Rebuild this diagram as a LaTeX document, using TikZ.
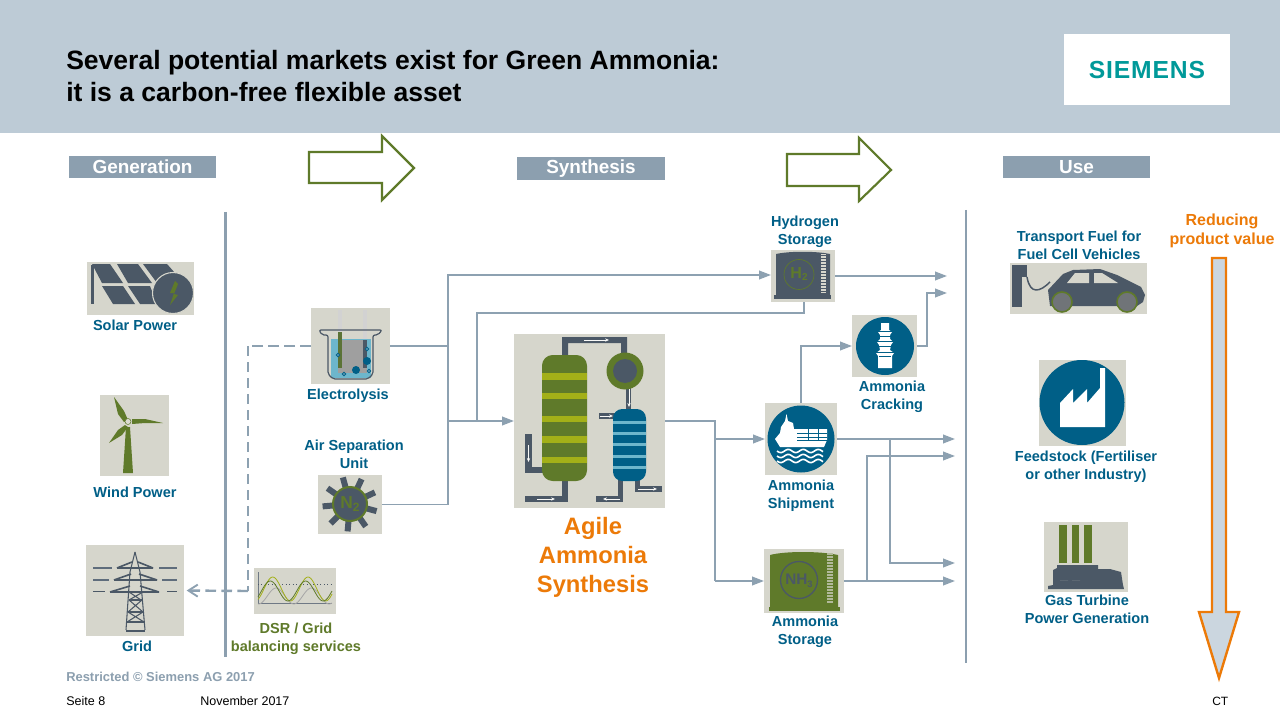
\documentclass[tikz,border=0pt]{standalone}
\usepackage{fontspec}
\setmainfont{Liberation Sans}
\usetikzlibrary{arrows.meta,calc}
\definecolor{hdr}{HTML}{BDCBD6}
\definecolor{steel}{HTML}{8C9FAF}
\definecolor{conn}{HTML}{8DA1B1}
\definecolor{tile}{HTML}{D6D6CC}
\definecolor{slate}{HTML}{4B5866}
\definecolor{leaf}{HTML}{5F7A2A}
\definecolor{lime}{HTML}{A3B018}
\definecolor{teal}{HTML}{005F87}
\definecolor{lteal}{HTML}{6DB6CC}
\definecolor{orng}{HTML}{EC7A08}
\definecolor{shaft}{HTML}{CBD6DF}
\definecolor{smns}{HTML}{009999}
\tikzset{
  tile/.style={fill=tile,draw=none,inner sep=0pt,outer sep=0pt},
  lbl/.style={text=teal,font=\bfseries\fontsize{10.9}{13.5}\selectfont,align=center,inner sep=0pt},
  cat/.style={fill=steel,text=white,font=\bfseries\fontsize{14.2}{16}\selectfont,inner sep=0pt,outer sep=0pt},
  link/.style={draw=conn,line width=1.35pt},
  flow/.style={link,-{Triangle[length=9pt,width=6.5pt,fill=conn]}},
  dashlink/.style={draw=conn,line width=1.8pt,dash pattern=on 8pt off 4pt},
  dashthin/.style={draw=conn,line width=1.2pt,dash pattern=on 7.5pt off 4.5pt},
  block/.style={draw=leaf,line width=1.6pt,fill=white},
  pipe/.style={fill=slate},
  wa/.style={draw=white!85!tile,line width=.6pt,-{Stealth[length=3pt,width=2.5pt]}},
}
% box node with pixel edges: name, x0, y0, x1, y1
\newcommand{\tilebox}[5]{\node[tile,minimum width={(#4-#2)*0.75pt},minimum height={(#5-#3)*0.75pt}] (#1) at ({(#2+#4)/2},{(#3+#5)/2}) {};}
\begin{document}
\begin{tikzpicture}[x=0.75pt,y=-0.75pt]
\useasboundingbox (0,0) rectangle (1280,720);
\fill[white] (0,0) rectangle (1280,720);
\fill[hdr] (0,0) rectangle (1280,133);
% title
\node[anchor=west,inner sep=0pt,align=left,font=\bfseries\fontsize{19.9}{24.2}\selectfont] (title) at (66,76)
 {Several potential markets exist for Green Ammonia:\\it is a carbon-free flexible asset};
\fill[white] (1064,34) rectangle (1230,105);
\node[text=smns,font=\bfseries\fontsize{18.5}{20}\selectfont\addfontfeature{LetterSpace=3.5},inner sep=0pt] (logo) at (1147,70) {SIEMENS};
% category headers
\node[cat,minimum width=110.25pt,minimum height=16.5pt] (gen) at (142.5,167) {\raisebox{.7pt}{Generation}};
\node[cat,minimum width=111pt,minimum height=17.25pt] (syn) at (591,168.5) {\raisebox{.7pt}{Synthesis}};
\node[cat,minimum width=110.25pt,minimum height=16.5pt] (use) at (1076.5,167) {\raisebox{.7pt}{Use}};
% block arrows
\draw[block,line join=miter] (309,152) -- (382,152) -- (382,136) -- (414,168) -- (382,200) -- (382,183) -- (309,183) -- cycle;
\draw[block,line join=miter] (787,154) -- (859,154) -- (859,138) -- (891,170) -- (859,201) -- (859,186) -- (787,186) -- cycle;
% separators
\draw[steel,line width=2.2pt] (225.5,212) -- (225.5,657);
\draw[steel,line width=2.2pt] (966,210) -- (966,663);

% ---------- tiles
\tilebox{solar}{87}{262}{194}{315}
\tilebox{wind}{100}{395}{169}{476}
\tilebox{grid}{86}{545}{184}{636}
\tilebox{elec}{311}{308}{390}{384}
\tilebox{asu}{318}{475}{382}{534}
\tilebox{dsr}{254}{568}{336}{614}
\tilebox{htank}{771}{250}{835}{302}
\tilebox{crack}{852}{315}{917}{377}
\tilebox{ship}{765}{403}{837}{475}
\tilebox{synth}{514}{334}{665}{508}
\tilebox{store}{764}{549}{844}{613}
\tilebox{car}{1010}{263}{1147}{314}
\tilebox{fact}{1039}{360}{1126}{446}
\tilebox{gast}{1044}{522}{1128}{592}

% solar icon
\fill[slate] (92,264) -- (110,264) -- (123,283) -- (102,283) -- cycle;
\fill[slate] (117,264) -- (138,264) -- (152,283) -- (128,283) -- cycle;
\fill[slate] (143,264) -- (167,264) -- (175,273) -- (157,283) -- cycle;
\fill[slate] (102,286) -- (123,286) -- (135,304) -- (113,304) -- cycle;
\fill[slate] (128,286) -- (150,286) -- (157,304) -- (140,304) -- cycle;
\fill[slate] (91,265) rectangle (94,304);
\fill[slate,draw=tile,line width=.8pt] (173,293) circle [radius=20.5];
\fill[leaf] (175,281) -- (170,293) -- (174,293) -- (170,305) -- (178,295) -- (174,294) -- (178,284) -- cycle;
% wind icon
\fill[leaf] (126,427) -- (130,427) -- (133,473) -- (123,473) -- cycle;
\fill[leaf] (114,397) -- (124,411) -- (128,420) -- (124,422) -- (118,414) -- cycle;
\fill[leaf] (132,419) -- (145,419) -- (163,423) -- (145,423) -- (132,424) -- cycle;
\fill[leaf] (125,425) -- (128,427) -- (122,435) -- (109,443) -- (118,430) -- cycle;
\fill[tile!90!white,draw=leaf,line width=.4pt] (128,421.5) circle [radius=3];
% pylon icon
\begin{scope}[draw=slate,line width=.8pt]
\draw (135,552) -- (130,572) -- (126,630);
\draw (135,552) -- (140,572) -- (145,630);
\draw[line width=1.1pt] (126,631) -- (145,631);
\draw (129,600) -- (142,600) (128,612) -- (143,612) (127,622) -- (144,622);
\draw (129,600) -- (143,612) (142,600) -- (128,612) (128,612) -- (144,622) (143,612) -- (127,622);
\draw (129,600) -- (143,592) (141,600) -- (129,592);
\draw[line width=1.2pt] (117,568) -- (153,568) (132,562) -- (117,568) (138,562) -- (153,568);
\draw[line width=1.2pt] (114,580) -- (157,580) (131,574) -- (114,580) (139,574) -- (157,580);
\draw[line width=1.2pt] (110,592) -- (159,592) (130,586) -- (110,592) (140,586) -- (159,592);
\draw[slate!70!steel,line width=1pt] (93,568) -- (112,568) (159,568) -- (177,568) (93,580) -- (109,580) (162,580) -- (177,580);
\draw[line width=1.3pt] (93,591.5) -- (105,591.5) (167,591.5) -- (177,591.5);
\end{scope}
% beaker icon
\fill[gray!35] (338,310) rectangle (342,340);
\fill[gray!35] (363,310) rectangle (367,340);
\fill[lteal] (331,339) rectangle (371,378);
\fill[gray!75] (338,340) rectangle (367,373);
\fill[leaf!80!slate] (338,332) rectangle (342,368);
\fill[slate] (363,340) rectangle (367,368);
\draw[slate,line width=.9pt,rounded corners=1.5pt] (322,335) -- (319,330) -- (382,330) -- (378,335) -- (373,335) -- (373,374) -- (368,379) -- (333,379) -- (328,374) -- (328,335) -- cycle;
\fill[teal] (356,370) circle [radius=4];
\fill[teal] (367,361) circle [radius=4];
\foreach \p in {(338,355),(367,349),(369,371),(344,374)}{\draw[teal,line width=.7pt,fill=white] \p circle [radius=1.6];}
% N2 icon
\foreach \a in {15,55,...,355}{\draw[slate,line width=4.5pt] (350,504) -- ++(\a:27.5);}
\fill[slate,draw=leaf,line width=1.5pt] (350,504) circle [radius=17];
\node[text=leaf,font=\bfseries\fontsize{13}{14}\selectfont,inner sep=0pt] (n2) at (350,504) {N\raisebox{-2pt}{\fontsize{9}{9}\selectfont 2}};
% DSR icon
\begin{scope}[line width=.6pt]
\draw[slate!80] (258,572) -- (258,603) -- (332,603);
\draw[slate,dotted] (258,584) -- (332,584);
\draw[gray!70!white] plot[domain=258:332,samples=60,smooth] (\x,{596-8*sin(10.2*(\x-258)-95)});
\draw[lime] plot[domain=258:332,samples=60,smooth] (\x,{589-12*sin(10.2*(\x-258)-60)});
\draw[leaf] plot[domain=258:332,samples=60,smooth] (\x,{591-10*sin(10.2*(\x-258)-35)});
\end{scope}
% H2 tank icon
\fill[slate] (776,254) .. controls (790,251) and (815,251) .. (830,254) -- (830,295) -- (776,295) -- cycle;
\fill[slate] (774,295) rectangle (831,298.5);
\fill[tile] (821,254) rectangle (826,293);
\draw[leaf,line width=.5pt] (799,274.5) circle [radius=15];
\node[text=leaf,font=\bfseries\fontsize{12}{13}\selectfont,inner sep=0pt] (h2) at (799,274) {H\raisebox{-2pt}{\fontsize{7.5}{8}\selectfont 2}};
\foreach \y in {255,258,...,292}{\draw[slate,line width=.3pt] (821,\y) -- (826,\y);}
% cracking icon
\fill[teal] (885,346) circle [radius=29];
\fill[white] (881,323) -- (889,323) -- (889,330) -- (892,332) -- (890,335) -- (890,339) -- (893,342) -- (891,345) -- (890,350) -- (894,353) -- (892,356) -- (892,368) -- (878,368) -- (878,356) -- (876,353) -- (880,350) -- (879,345) -- (877,342) -- (880,339) -- (880,335) -- (878,332) -- (881,330) -- cycle;
\draw[teal,line width=.5pt] (878,331) -- (892,331) (877,341) -- (893,341) (876,352) -- (894,352) (879,336) -- (891,336) (879,346) -- (891,346) (879,356) -- (891,356);
% ship icon
\fill[teal] (801,439) circle [radius=33.5];
\fill[white] (775,439) -- (780,433) -- (781,427) -- (785,421) -- (786.5,414) -- (788,421) -- (793,423) -- (794,429) -- (797,429) -- (827,429) -- (827,440) -- (824,447) -- (780,447) -- cycle;
\draw[teal,line width=.4pt] (797,433) -- (827,433) (797,437) -- (827,437) (808,429) -- (808,440) (818,429) -- (818,440) (797,440) -- (827,440);
\foreach \y in {451,456,461}{\draw[white,line width=1.2pt] plot[domain=777:823,samples=40,smooth] (\x,{\y+1.6*sin(24*(\x-777))});}
% storage icon
\fill[leaf] (770,555) .. controls (785,551) and (820,551) .. (838,555) -- (838,607) -- (770,607) -- cycle;
\fill[leaf] (769,607) rectangle (840,611);
\fill[tile!70!leaf] (827,553) rectangle (833,603);
\foreach \y in {555,558,...,602}{\draw[leaf,line width=.3pt] (827,\y) -- (833,\y);}
\draw[slate,line width=1pt] (799,580) circle [radius=18.5];
\node[text=slate,font=\bfseries\fontsize{11.5}{13}\selectfont,inner sep=0pt] (nh3) at (799,581) {NH\raisebox{-2pt}{\fontsize{7}{8}\selectfont 3}};
% synthesis icon
\fill[pipe] (562,355) -- (562,337) -- (627,337) -- (627,356) -- (621,356) -- (621,343) -- (568,343) -- (568,355) -- cycle;
\fill[pipe] (626,385) rectangle (631,410);
\fill[pipe] (525,434) rectangle (532,473);
\fill[pipe] (525,467) rectangle (545,473);
\fill[pipe] (562,478) rectangle (568,502);
\fill[pipe] (525,496) rectangle (568,502);
\fill[pipe] (618,478) rectangle (623,502);
\fill[pipe] (596,496) rectangle (623,502);
\fill[pipe] (635,478) rectangle (640,492);
\fill[pipe] (635,486) rectangle (662,492);
\fill[pipe] (599,413) rectangle (615,419);
\fill[leaf,rounded corners=8pt] (542,355) rectangle (587,481);
\fill[lime] (542,373) rectangle (587,380);
\fill[lime] (542,393) rectangle (587,399);
\fill[lime] (542,416) rectangle (587,422);
\fill[lime] (542,436) rectangle (587,443);
\fill[lime] (542,457) rectangle (587,463);
\fill[leaf] (625,371) circle [radius=18.5];
\fill[slate] (625,371) circle [radius=12];
\fill[teal,rounded corners=7pt] (613,409) rectangle (646,481);
\foreach \y in {422,433,444,456,467}{\fill[lteal] (613,\y-1.5) rectangle (646,\y+1.5);}
\draw[wa] (584,340) -- (609,340);
\draw[wa] (629,389) -- (629,407);
\draw[wa] (528.5,445) -- (528.5,462);
\draw[wa] (537,499) -- (555,499);
\draw[wa] (620,499) -- (603,499);
\draw[wa] (600,416) -- (613,416);
\draw[wa] (638,489) -- (657,489);
% car icon
\fill[slate] (1012,265) rectangle (1022,307);
\fill[slate] (1012,265) rectangle (1027,277);
\draw[slate,line width=1.1pt] (1027,277) .. controls (1030,295) and (1040,292) .. (1050,282);
\fill[slate] (1050,306) -- (1048,290) -- (1063,274) -- (1073,270) -- (1100,269) -- (1117,275) -- (1141,287) -- (1145,295) -- (1143,302) -- (1137,306) -- cycle;
\fill[tile] (1067,283) -- (1075,273) -- (1089,273) -- (1089,283) -- cycle;
\fill[tile] (1094,273) -- (1102,273) -- (1118,283) -- (1094,283) -- cycle;
\fill[gray!70!slate,draw=leaf,line width=1.2pt] (1062,302) circle [radius=10];
\fill[gray!70!slate,draw=leaf,line width=1.2pt] (1127,302) circle [radius=10];
% factory icon
\fill[teal] (1082,402.5) circle [radius=42.5];
\fill[white] (1060,427) -- (1060,403) -- (1073,389) -- (1073,403) -- (1087,389) -- (1087,403) -- (1100,388) -- (1100,368) -- (1105,368) -- (1105,427) -- cycle;
% gas turbine icon
\fill[leaf] (1059,525) rectangle (1067,563);
\fill[leaf] (1072,525) rectangle (1079,563);
\fill[leaf] (1084,525) rectangle (1092,563);
\fill[slate] (1057,565) -- (1098,565) -- (1098,569) -- (1110,569) -- (1121,572) -- (1123,585) -- (1124,589) -- (1048,589) -- (1048,586) -- (1053,585) -- (1053,570) -- (1057,568) -- cycle;
\draw[tile,line width=.7pt] (1060,580) -- (1068,580) (1072,580) -- (1080,580);
% orange arrow
\draw[draw=orng,fill=shaft,line width=1.8pt,line join=miter] (1212,258) -- (1226,258) -- (1226,612) -- (1239,612) -- (1219,678) -- (1199,612) -- (1212,612) -- cycle;

% ---------- connectors
\coordinate (bus) at (448,346);
\coordinate (busH) at (448,275);
\coordinate (busS) at (448,421);
\coordinate (ret) at (477,313);
\coordinate (retS) at (477,421);
\coordinate (retH) at (804,313);
\coordinate (spl) at (715,421);
\coordinate (endH) at (947,276);
\coordinate (endC) at (947,293);
\coordinate (elbC) at (927,293);
\coordinate (endA) at (955,439);
\coordinate (endB) at (955,456);
\coordinate (endD) at (955,563);
\coordinate (endE) at (955,581);
\coordinate (jA) at (890,439);
\coordinate (jB) at (867,581);
\coordinate (dashC) at (248,346);
\coordinate (dashD) at (248,591);

\draw[link] (elec.east) -- (bus);
\draw[flow] (asu.east) -| (busH) -- (htank.west|-busH);
\draw[flow] (busS) -- (synth.west);
\draw[link] (htank.south-|retH) -- (retH) -- (ret) -- (retS);
\draw[link] (synth.east) -- (spl) -- (spl|-store.west);
\draw[flow] (spl|-ship.west) -- (ship.west);
\draw[flow] (spl|-store.west) -- (store.west);
\draw[flow] (ship.north) |- (crack.west);
\draw[flow] (crack.east) -| (elbC) -- (endC);
\draw[flow] (htank.east) -- (endH);
\draw[flow] (ship.east) -- (endA);
\draw[flow] (jA) |- (endD);
\draw[flow] (store.east) -- (endE);
\draw[flow] (jB) |- (endB);
\draw[dashlink] (elec.west) -- (dashC);
\draw[dashthin] (dashC) -- (dashD);
\draw[dashlink,-{Straight Barb[length=7pt,width=9pt,line width=1.4pt]},shorten >=2pt] (dashD) -- (grid.east);

% ---------- labels
\node[lbl] (lsolar) at (135,325) {Solar Power};
\node[lbl] (lwind) at (135,492.5) {Wind Power};
\node[lbl] (lgrid) at (137,646) {Grid};
\node[lbl] (lelec) at (348,396) {Electrolysis};
\node[lbl] (lasu) at (354,454) {Air Separation\\Unit};
\node[lbl,text=leaf] (ldsr) at (296,639) {DSR / Grid\\balancing services};
\node[lbl] (lh) at (805,232) {Hydrogen\\Storage};
\node[lbl] (lcrack) at (892,397) {Ammonia\\Cracking};
\node[lbl] (lship) at (801,496) {Ammonia\\Shipment};
\node[lbl] (lstore) at (805,632) {Ammonia\\Storage};
\node[lbl] (lcar) at (1079,245) {Transport Fuel for\\Fuel Cell Vehicles};
\node[lbl] (lfact) at (1086,467) {Feedstock (Fertiliser\\or other Industry)};
\node[lbl] (lgast) at (1087,609) {Gas Turbine\\Power Generation};
\node[lbl,text=orng,font=\bfseries\fontsize{12}{14}\selectfont] (lred) at (1222,231) {Reducing\\product value};
\node[text=orng,font=\bfseries\fontsize{17.8}{21.75}\selectfont,align=center,inner sep=0pt] (lagile) at (593,557) {Agile\\Ammonia\\Synthesis};
% footer
\node[anchor=west,text=steel,font=\bfseries\fontsize{9.7}{11}\selectfont,inner sep=0pt] (restr) at (66,677) {Restricted © Siemens AG 2017};
\node[anchor=west,font=\fontsize{9.4}{11}\selectfont,inner sep=0pt] (seite) at (66,701) {Seite 8};
\node[anchor=west,font=\fontsize{9.4}{11}\selectfont,inner sep=0pt] (nov) at (200,701) {November  2017};
\node[anchor=west,font=\fontsize{9}{11}\selectfont,inner sep=0pt] (ct) at (1212,701) {CT};
\end{tikzpicture}
\end{document}
